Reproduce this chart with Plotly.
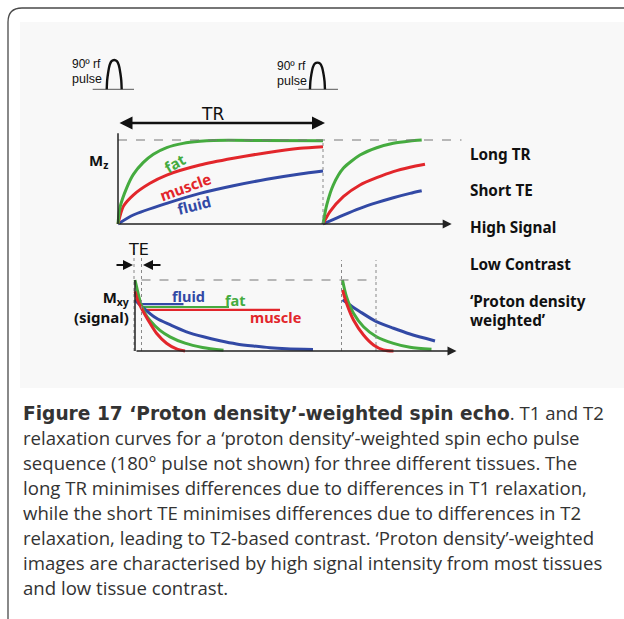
import plotly.graph_objects as go

W, H = 624, 619
def PX(x):
    return x / W
def PY(y):
    return 1 - y / H

# ---------------- data ----------------
TR = 2000  # ms, repetition time

# Longitudinal recovery (Mz, fraction of M0) - first TR
fat_t1 = [0, 20, 85, 150, 245, 345, 475, 635, 800, 930, 1400, 2000]
fat_mz1 = [0, 0.20, 0.43, 0.59, 0.73, 0.83, 0.91, 0.96, 0.985, 0.995, 0.995, 0.99]
muscle_t1 = [0, 52, 149, 312, 475, 800, 1125, 1451, 1776, 2000]
muscle_mz1 = [0, 0.21, 0.345, 0.485, 0.583, 0.702, 0.782, 0.849, 0.901, 0.92]
fluid_t1 = [0, 149, 475, 800, 1125, 1451, 1776, 2000]
fluid_mz1 = [0, 0.107, 0.246, 0.365, 0.456, 0.532, 0.595, 0.631]

# Longitudinal recovery - second TR
fat_t2 = [2000, 2036, 2100, 2198, 2361, 2524, 2686, 2849, 2963]
fat_mz2 = [0, 0.226, 0.464, 0.663, 0.821, 0.908, 0.961, 0.988, 1.0]
muscle_t2 = [2000, 2068, 2198, 2361, 2524, 2686, 2849, 2995]
muscle_mz2 = [0, 0.146, 0.325, 0.464, 0.551, 0.623, 0.675, 0.711]
fluid_t2 = [2000, 2198, 2361, 2524, 2686, 2849, 2963]
fluid_mz2 = [0, 0.107, 0.187, 0.254, 0.313, 0.365, 0.396]

# RF pulses
pulse_centers = [-37, 1946]
pulse_peaks = [1.0, 0.91]
pulse_base_left = [-210, -190]
pulse_base_right = [193, 200]
arch_dt = [-73, -69, -60, -44, -26, 0, 26, 44, 60, 69, 73]
arch_amp = [0, 0.3, 0.55, 0.83, 0.96, 1.0, 0.96, 0.83, 0.55, 0.3, 0]

# Transverse decay (Mxy) - first echo, time in ms
fat_te1 = [0, 4, 8, 13, 20, 30, 50, 70, 100, 135, 177]
fat_mxy1 = [1.0, 0.88, 0.76, 0.64, 0.53, 0.43, 0.29, 0.20, 0.11, 0.05, 0.01]
muscle_te1 = [0, 6, 13, 20, 30, 43, 63, 83, 100]
muscle_mxy1 = [0.84, 0.70, 0.60, 0.51, 0.39, 0.25, 0.11, 0.03, 0.0]
fluid_te1 = [0, 13, 43, 70, 103, 137, 170, 203, 237, 270, 303, 356]
fluid_mxy1 = [0.72, 0.63, 0.46, 0.37, 0.27, 0.20, 0.145, 0.10, 0.07, 0.046, 0.032, 0.02]

# Transverse decay - second echo
fat_te2 = [415, 423, 437, 457, 483, 517, 550, 593]
fat_mxy2 = [1.0, 0.765, 0.531, 0.342, 0.201, 0.108, 0.052, 0.024]
muscle_te2 = [415, 423, 437, 457, 477, 497, 517]
muscle_mxy2 = [0.86, 0.672, 0.437, 0.225, 0.085, 0.014, 0.0]
fluid_te2 = [415, 430, 450, 483, 517, 550, 600]
fluid_mxy2 = [0.72, 0.648, 0.554, 0.413, 0.320, 0.239, 0.141]

# Signal level at TE
TE = 13
te_levels = {"fluid": 0.66, "fat": 0.62, "muscle": 0.58}
te_level_end = {"fluid": 97, "fat": 188, "muscle": 290}
TE2_start, TE2_end = 413, 482

colors = {"fat": "#45ab3f", "muscle": "#e2262b", "fluid": "#3249a5"}

right_labels = ["Long TR", "Short TE", "High Signal", "Low Contrast",
                "‘Proton density", "weighted’"]

BOLD_SPAN = '<span style="font-family:DejaVu Sans;font-weight:bold">'
caption_lines = [
    BOLD_SPAN + "Figure 17 ‘Proton density’-weighted spin echo</span>. T1 and T2",
    "relaxation curves for a ‘proton density’-weighted spin echo pulse",
    "sequence (180° pulse not shown) for three different tissues. The",
    "long TR minimises differences due to differences in T1 relaxation,",
    "while the short TE minimises differences due to differences in T2",
    "relaxation, leading to T2-based contrast. ‘Proton density’-weighted",
    "images are characterised by high signal intensity from most tissues",
    "and low tissue contrast.",
]

# ---------------- figure ----------------
fig = go.Figure()

LW = 3
top = {
    "fat": [(fat_t1, fat_mz1), (fat_t2, fat_mz2)],
    "muscle": [(muscle_t1, muscle_mz1), (muscle_t2, muscle_mz2)],
    "fluid": [(fluid_t1, fluid_mz1), (fluid_t2, fluid_mz2)],
}
for name in ["fluid", "muscle", "fat"]:
    for tx, ty in top[name]:
        fig.add_trace(go.Scatter(x=tx, y=ty, mode="lines", xaxis="x", yaxis="y",
                                 line=dict(color=colors[name], width=LW, shape="spline", smoothing=0.7),
                                 hoverinfo="skip"))

# pulses
for c, pk, bl, br in zip(pulse_centers, pulse_peaks, pulse_base_left, pulse_base_right):
    fig.add_trace(go.Scatter(x=[c + bl, c + br], y=[0, 0], mode="lines", xaxis="x", yaxis="y3",
                             line=dict(color="#777777", width=1.3), hoverinfo="skip"))
    fig.add_trace(go.Scatter(x=[c + d for d in arch_dt], y=[a * pk for a in arch_amp],
                             mode="lines", xaxis="x", yaxis="y3",
                             line=dict(color="#111111", width=2.4, shape="spline", smoothing=0.6),
                             hoverinfo="skip"))

bottom = {
    "fat": [(fat_te1, fat_mxy1), (fat_te2, fat_mxy2)],
    "muscle": [(muscle_te1, muscle_mxy1), (muscle_te2, muscle_mxy2)],
    "fluid": [(fluid_te1, fluid_mxy1), (fluid_te2, fluid_mxy2)],
}
for name in ["fluid", "fat", "muscle"]:
    fig.add_trace(go.Scatter(x=[TE, te_level_end[name]], y=[te_levels[name]] * 2, mode="lines",
                             xaxis="x2", yaxis="y2", line=dict(color=colors[name], width=2.2),
                             hoverinfo="skip"))
for name in ["fluid", "fat", "muscle"]:
    for tx, ty in bottom[name]:
        fig.add_trace(go.Scatter(x=tx, y=ty, mode="lines", xaxis="x2", yaxis="y2",
                                 line=dict(color=colors[name], width=LW, shape="spline", smoothing=0.8),
                                 hoverinfo="skip"))

# ---------------- axes ----------------
px_per_ms = 205 / TR
x1_range = [(60 - 118) / px_per_ms, (461.7 - 118) / px_per_ms]
y1_range = [-(235 - 224) / 84, (224 - 100) / 84]
x2_range = [(60 - 135) * 2, (461 - 135) * 2]
y2_range = [(351 - 362) / 71, (351 - 240) / 71]
y3_range = [-(95 - 89.3) / 29.3, (89.3 - 50) / 29.3]

ax_common = dict(visible=False, showgrid=False, zeroline=False, fixedrange=True)
fig.update_layout(
    xaxis=dict(domain=[PX(60), PX(461.7)], range=x1_range, anchor="y", **ax_common),
    yaxis=dict(domain=[PY(235), PY(100)], range=y1_range, anchor="x", **ax_common),
    yaxis3=dict(domain=[PY(95), PY(50)], range=y3_range, anchor="x", **ax_common),
    xaxis2=dict(domain=[PX(60), PX(461)], range=x2_range, anchor="y2", **ax_common),
    yaxis2=dict(domain=[PY(362), PY(240)], range=y2_range, anchor="x2", **ax_common),
)

shapes = []
# outer frame with rounded corner
shapes.append(dict(type="path", xref="paper", yref="paper",
                   path=f"M {PX(8)},{PY(619)} L {PX(8)},{PY(22)} Q {PX(8)},{PY(8)} {PX(22)},{PY(8)} L {PX(624)},{PY(8)}",
                   line=dict(color="#4a4a4a", width=1.3), layer="below"))
# light grey figure panel
shapes.append(dict(type="rect", xref="paper", yref="paper", x0=PX(20), x1=PX(624), y0=PY(388), y1=PY(22),
                   fillcolor="#f8f8f8", line=dict(width=0), layer="below"))
# top panel guides
shapes.append(dict(type="line", xref="x", yref="y", x0=0, x1=x1_range[1], y0=1, y1=1,
                   line=dict(color="#777777", width=1.2, dash="dash")))
shapes.append(dict(type="line", xref="x", yref="y", x0=TR, x1=TR, y0=0, y1=1,
                   line=dict(color="#888888", width=1, dash="dot")))
shapes.append(dict(type="line", xref="x", yref="y", x0=0, x1=0, y0=0, y1=1.08,
                   line=dict(color="#222222", width=1.5)))
# bottom panel guides
shapes.append(dict(type="line", xref="x2", yref="y2", x0=TE, x1=TE2_end, y0=1, y1=1,
                   line=dict(color="#777777", width=1.2, dash="dash")))
for xv, ytop in [(-2, 1.46), (TE, 1.46), (TE2_start, 1.28), (TE2_end, 1.28)]:
    shapes.append(dict(type="line", xref="x2", yref="y2", x0=xv, x1=xv, y0=0, y1=ytop,
                       line=dict(color="#888888", width=1, dash="dot")))
shapes.append(dict(type="line", xref="x2", yref="y2", x0=0, x1=0, y0=0, y1=1.0,
                   line=dict(color="#222222", width=1.5)))

annotations = []
def arrow(x, y, ax, ay, xref, yref, width=1.5, head=2, size=1.0, side="end", color="#222222"):
    annotations.append(dict(x=x, y=y, ax=ax, ay=ay, xref=xref, yref=yref, axref=xref, ayref=yref,
                            text="", showarrow=True, arrowhead=head, startarrowhead=head,
                            arrowsize=size, startarrowsize=size, arrowwidth=width,
                            arrowcolor=color, arrowside=side, standoff=0, startstandoff=0))

# axis arrows
arrow((451.7 - 118) / px_per_ms, 0, 0, 0, "x", "y", width=1.5, head=2, size=1.2)
arrow(643, 0, 0, 0, "x2", "y2", width=1.5, head=2, size=1.2)
# TR double arrow
arrow((325 - 118) / px_per_ms, (224 - 123) / 84, 0, (224 - 123) / 84, "x", "y",
      width=2.6, head=2, size=1.0, side="end+start", color="#111111")
# TE arrows
arrow(-4, 1.211, -40, 1.211, "x2", "y2", width=2, head=2, size=1.0, color="#111111")
arrow(16, 1.211, 54, 1.211, "x2", "y2", width=2, head=2, size=1.0, color="#111111")

def label(text, x, y, size, color="#111111", family="DejaVu Sans", xanchor="center", angle=0, align="left"):
    annotations.append(dict(text=text, x=PX(x), y=PY(y), xref="paper", yref="paper",
                            showarrow=False, xanchor=xanchor, yanchor="middle", textangle=angle,
                            align=align, font=dict(size=size, color=color, family=family)))

BF = "Noto Sans"
label("TR", 212, 114, 17)
label("TE", 138, 250, 16)
label("90º rf", 70, 64, 12, family="Liberation Sans", xanchor="left")
label("pulse", 70, 79, 12.5, family="Liberation Sans", xanchor="left")
label("90º rf", 275, 66, 12, family="Liberation Sans", xanchor="left")
label("pulse", 275, 81, 12.5, family="Liberation Sans", xanchor="left")
label("<b>M<sub>z</sub></b>", 98, 161, 15, family=BF)
label("<b>M<sub>xy</sub><br>(signal)</b>", 131, 307, 15, family=BF, xanchor="right", align="right")

label("<b>fat</b>", 175, 163, 15, color=colors["fat"], family=BF, angle=-30)
label("<b>muscle</b>", 185, 187, 15, color=colors["muscle"], family=BF, angle=-20)
label("<b>fluid</b>", 194, 205, 15, color=colors["fluid"], family=BF, angle=-14)

label("<b>fluid</b>", 188, 296, 14.5, color=colors["fluid"], family=BF)
label("<b>fat</b>", 235, 300, 14.5, color=colors["fat"], family=BF)
label("<b>muscle</b>", 275, 317, 14.5, color=colors["muscle"], family=BF)

for txt, yy in zip(right_labels, [154, 190, 227, 264, 301, 320]):
    label(f"<b>{txt}</b>", 468, yy, 15.3, family=BF, xanchor="left")

for i, line in enumerate(caption_lines):
    label(line, 21, 412 + i * 25, 18.6, color="#333333", family="Open Sans", xanchor="left")

fig.update_layout(
    width=W, height=H, margin=dict(l=0, r=0, t=0, b=0),
    paper_bgcolor="white", plot_bgcolor="rgba(0,0,0,0)",
    showlegend=False, shapes=shapes, annotations=annotations,
)

fig.write_html("out.html", config={"displayModeBar": False},
               post_script="document.body.style.margin='0px';document.body.style.overflow='hidden';")
